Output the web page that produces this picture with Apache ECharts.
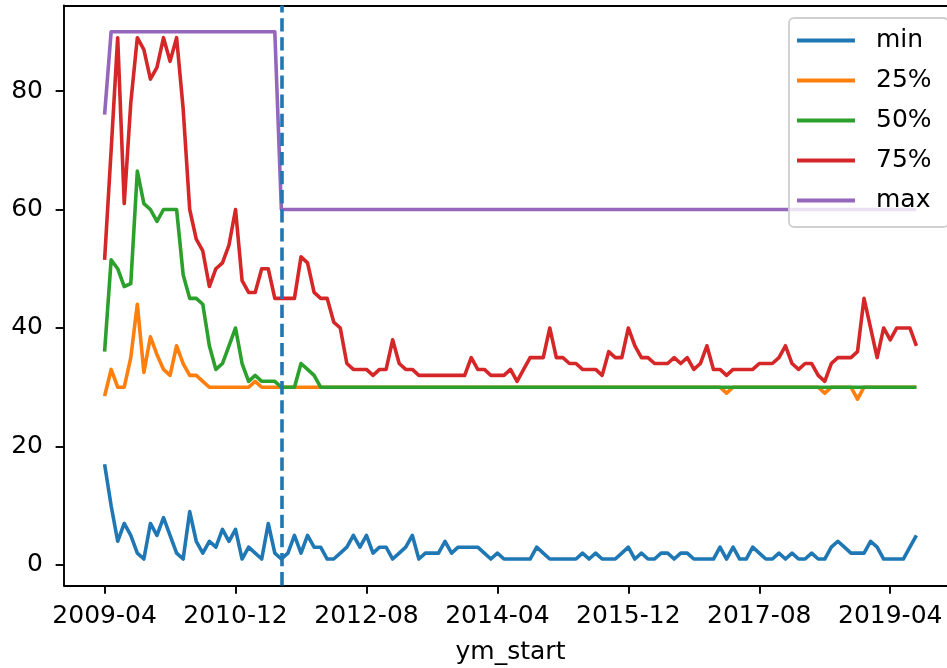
<!DOCTYPE html>
<html>
<head>
<meta charset="utf-8">
<script src="https://cdn.jsdelivr.net/npm/echarts@6/dist/echarts.min.js"></script>
<style>
  html, body { margin: 0; padding: 0; background: #fff; }
  #chart { width: 947px; height: 668px; }
</style>
</head>
<body>
<div id="chart"></div>
<script>
// Monthly buckets, 2009-04 .. 2019-08 (125 months)
const startYear = 2009, startMonth = 4, monthCount = 125;
const months = [];
for (let k = 0; k < monthCount; k++) {
  const m = startMonth - 1 + k;
  const y = startYear + Math.floor(m / 12);
  const mm = (m % 12) + 1;
  months.push(y + '-' + (mm < 10 ? '0' + mm : '' + mm));
}

const tickLabels = ['2009-04', '2010-12', '2012-08', '2014-04', '2015-12', '2017-08', '2019-04'];
const yTicks = [0, 20, 40, 60, 80];
const cutoverMonth = '2011-07';

const minVals = [17, 10, 4, 7, 5, 2, 1, 7, 5, 8, 5, 2, 1, 9, 4, 2, 4, 3, 6, 4,
  6, 1, 3, 2, 1, 7, 2, 1, 2, 5, 2, 5, 3, 3, 1, 1, 2, 3, 5, 3,
  5, 2, 3, 3, 1, 2, 3, 5, 1, 2, 2, 2, 4, 2, 3, 3, 3, 3, 2, 1,
  2, 1, 1, 1, 1, 1, 3, 2, 1, 1, 1, 1, 1, 2, 1, 2, 1, 1, 1, 2,
  3, 1, 2, 1, 1, 2, 2, 1, 2, 2, 1, 1, 1, 1, 3, 1, 3, 1, 1, 3,
  2, 1, 1, 2, 1, 2, 1, 1, 2, 1, 1, 3, 4, 3, 2, 2, 2, 4, 3, 1,
  1, 1, 1, 3, 5];

const p25Vals = [28.5, 33, 30, 30, 35, 44, 32.5, 38.5, 35.5, 33, 32, 37, 34, 32, 32, 31, 30, 30, 30, 30,
  30, 30, 30, 31, 30, 30, 30, 30, 30, 30, 30, 30, 30, 30, 30, 30, 30, 30, 30, 30,
  30, 30, 30, 30, 30, 30, 30, 30, 30, 30, 30, 30, 30, 30, 30, 30, 30, 30, 30, 30,
  30, 30, 30, 30, 30, 30, 30, 30, 30, 30, 30, 30, 30, 30, 30, 30, 30, 30, 30, 30,
  30, 30, 30, 30, 30, 30, 30, 30, 30, 30, 30, 30, 30, 30, 30, 29, 30, 30, 30, 30,
  30, 30, 30, 30, 30, 30, 30, 30, 30, 30, 29, 30, 30, 30, 30, 28, 30, 30, 30, 30,
  30, 30, 30, 30, 30];

const p50Vals = [36, 51.5, 50, 47, 47.5, 66.5, 61, 60, 58, 60, 60, 60, 49, 45, 45, 44, 37, 33, 34, 37,
  40, 34, 31, 32, 31, 31, 31, 30, 30, 30, 34, 33, 32, 30, 30, 30, 30, 30, 30, 30,
  30, 30, 30, 30, 30, 30, 30, 30, 30, 30, 30, 30, 30, 30, 30, 30, 30, 30, 30, 30,
  30, 30, 30, 30, 30, 30, 30, 30, 30, 30, 30, 30, 30, 30, 30, 30, 30, 30, 30, 30,
  30, 30, 30, 30, 30, 30, 30, 30, 30, 30, 30, 30, 30, 30, 30, 30, 30, 30, 30, 30,
  30, 30, 30, 30, 30, 30, 30, 30, 30, 30, 30, 30, 30, 30, 30, 30, 30, 30, 30, 30,
  30, 30, 30, 30, 30];

const p75Vals = [51.5, 70, 89, 61, 78, 89, 87, 82, 84, 89, 85, 89, 77, 60, 55, 53, 47, 50, 51, 54,
  60, 48, 46, 46, 50, 50, 45, 45, 45, 45, 52, 51, 46, 45, 45, 41, 40, 34, 33, 33,
  33, 32, 33, 33, 38, 34, 33, 33, 32, 32, 32, 32, 32, 32, 32, 32, 35, 33, 33, 32,
  32, 32, 33, 31, 33, 35, 35, 35, 40, 35, 35, 34, 34, 33, 33, 33, 32, 36, 35, 35,
  40, 37, 35, 35, 34, 34, 34, 35, 34, 35, 33, 34, 37, 33, 33, 32, 33, 33, 33, 33,
  34, 34, 34, 35, 37, 34, 33, 34, 34, 32, 31, 34, 35, 35, 35, 36, 45, 40, 35, 40,
  38, 40, 40, 40, 37];

const maxVals = [76, 90, 90, 90, 90, 90, 90, 90, 90, 90, 90, 90, 90, 90, 90, 90, 90, 90, 90, 90,
  90, 90, 90, 90, 90, 90, 90, 60, 60, 60, 60, 60, 60, 60, 60, 60, 60, 60, 60, 60,
  60, 60, 60, 60, 60, 60, 60, 60, 60, 60, 60, 60, 60, 60, 60, 60, 60, 60, 60, 60,
  60, 60, 60, 60, 60, 60, 60, 60, 60, 60, 60, 60, 60, 60, 60, 60, 60, 60, 60, 60,
  60, 60, 60, 60, 60, 60, 60, 60, 60, 60, 60, 60, 60, 60, 60, 60, 60, 60, 60, 60,
  60, 60, 60, 60, 60, 60, 60, 60, 60, 60, 60, 60, 60, 60, 60, 60, 60, 60, 60, 60,
  60, 60, 60, 60, 60];

const seriesNames = ['min', '25%', '50%', '75%', 'max'];
const seriesColors = ['#1f77b4', '#ff7f0e', '#2ca02c', '#d62728', '#9467bd'];
const seriesValues = [minVals, p25Vals, p50Vals, p75Vals, maxVals];

const FONT = 'DejaVu Sans';
const FONT_SIZE = 25;
const tickIdx = tickLabels.map(t => months.indexOf(t));
const cutIdx = months.indexOf(cutoverMonth);

// pandas-style 5% margins around the data extent
const xMin = -0.05 * (monthCount - 1), xMax = (monthCount - 1) * 1.05;
const yLo = 1, yHi = 90;
const yMin = yLo - 0.05 * (yHi - yLo), yMax = yHi + 0.05 * (yHi - yLo);

const series = seriesNames.map((name, s) => ({
  name: name,
  type: 'line',
  data: seriesValues[s].map((v, i) => [i, v]),
  showSymbol: false,
  symbol: 'none',
  color: seriesColors[s],
  lineStyle: { width: 3.6, color: seriesColors[s], join: 'round' },
  emphasis: { disabled: true },
  z: 2 + s
}));

// vertical dashed marker
series[series.length - 1].markLine = {
  silent: true,
  symbol: ['none', 'none'],
  label: { show: false },
  lineStyle: { color: '#1f77b4', width: 3.6, type: [13.3, 5.8] },
  data: [{ xAxis: cutIdx }],
  z: 10
};

const spine = { show: true, onZero: false, lineStyle: { color: '#000', width: 1.9 } };

const chart = echarts.init(document.getElementById('chart'), null, { renderer: 'canvas' });
chart.setOption({
  animation: false,
  backgroundColor: '#ffffff',
  grid: {
    left: 64, top: 5.4, width: 893, height: 580,
    outerBoundsMode: 'none',
    containLabel: false
  },
  legend: {
    orient: 'vertical',
    left: 789, top: 18,
    padding: [10, 17, 14, 8],
    itemGap: 15,
    itemWidth: 58, itemHeight: 4,
    icon: 'rect',
    backgroundColor: 'rgba(255,255,255,0.8)',
    borderColor: '#d0d0d0', borderWidth: 1.9, borderRadius: 5,
    textStyle: { fontFamily: FONT, fontSize: FONT_SIZE, color: '#000', lineHeight: 24, padding: [0, 0, 0, 16] },
    data: seriesNames,
    z: 20
  },
  xAxis: [{
    type: 'value',
    min: xMin, max: xMax,
    name: 'ym_start',
    nameLocation: 'middle',
    nameGap: 55,
    nameTextStyle: { fontFamily: FONT, fontSize: FONT_SIZE, color: '#000' },
    axisLine: spine,
    axisTick: { show: true, length: 8.4, lineStyle: { color: '#000', width: 1.9 }, customValues: tickIdx },
    axisLabel: {
      fontFamily: FONT, fontSize: FONT_SIZE, color: '#000', margin: 19,
      customValues: tickIdx,
      formatter: v => months[Math.round(v)]
    },
    splitLine: { show: false }
  }, {
    // top spine only
    type: 'value',
    position: 'top',
    min: xMin, max: xMax,
    axisLine: spine,
    axisTick: { show: false },
    axisLabel: { show: false },
    splitLine: { show: false }
  }],
  yAxis: {
    type: 'value',
    min: yMin, max: yMax,
    axisLine: spine,
    axisTick: { show: true, length: 8.4, lineStyle: { color: '#000', width: 1.9 }, customValues: yTicks },
    axisLabel: {
      fontFamily: FONT, fontSize: FONT_SIZE, color: '#000', margin: 21,
      customValues: yTicks,
      formatter: v => String(Math.round(v))
    },
    splitLine: { show: false }
  },
  series: series
});
</script>
</body>
</html>
